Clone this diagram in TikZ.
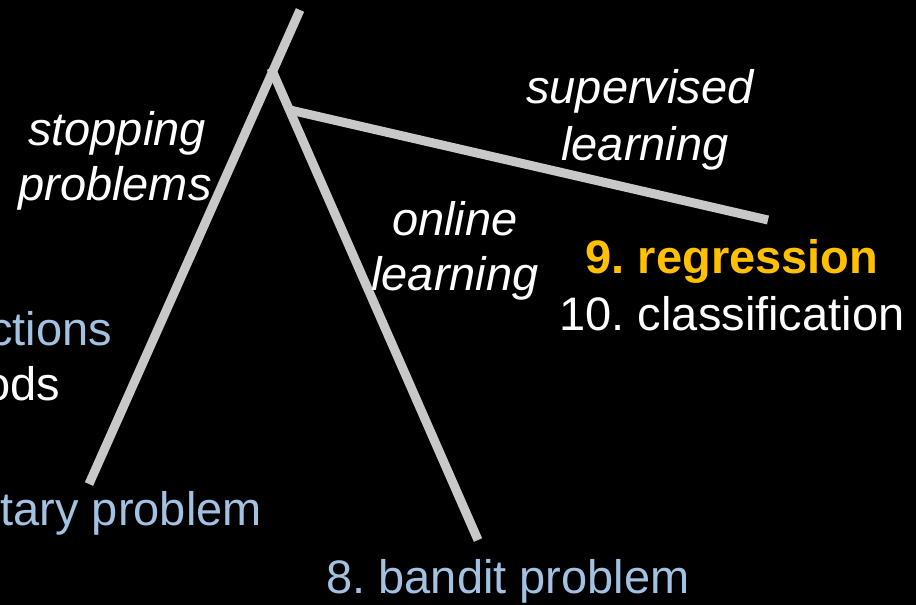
\documentclass[tikz,border=0pt]{standalone}
\usepackage{fontspec}
\setmainfont{Liberation Sans}
\frenchspacing
\definecolor{lineg}{HTML}{C8C8C8}
\definecolor{lblue}{HTML}{A3C2E2}
\definecolor{gold}{HTML}{FFC000}
\begin{document}
\begin{tikzpicture}[x=1pt,y=-1pt,
  txt/.style={inner sep=0pt,font=\fontsize{47}{52}\selectfont\frenchspacing},
  itl/.style={txt,font=\fontsize{47}{52}\selectfont\itshape,text=white},
  branch/.style={draw=lineg,line width=9pt}]
\fill[black] (0,0) rectangle (916,605);
\useasboundingbox (0,0) rectangle (916,605);
\clip (0,0) rectangle (916,605);
% branch points
\coordinate (top) at (300,10);
\coordinate (leftend) at (89,484);
\coordinate (apex) at (271,68);
\coordinate (bandend) at (478,540);
\coordinate (sstart) at (290,110);
\coordinate (send) at (768,220);
\draw[branch] (leftend) -- (top);
\draw[branch] (apex) -- (bandend);
\draw[branch] (sstart) -- (send);
% labels
\node[itl,anchor=base] (stop1) at (117,145) {stopping};
\node[itl,anchor=base] (stop2) at (115,200) {problems};
\node[itl,anchor=base] (sup1) at (640,103) {supervised};
\node[itl,anchor=base] (sup2) at (645,160) {learning};
\node[itl,anchor=base] (onl1) at (455,235) {online};
\node[itl,anchor=base] (onl2) at (455,290) {learning};
\node[txt,anchor=base,text=gold,font=\fontsize{47}{52}\selectfont\bfseries\frenchspacing] (reg) at (732,273) {9. regression};
\node[txt,anchor=base,text=white] (cls) at (732,330) {10. classification};
\node[txt,anchor=base east,text=lblue] (fn) at (112,345) {ctions};
\node[txt,anchor=base east,text=white] (md) at (60,400) {ods};
\node[txt,anchor=base east,text=lblue] (sec) at (262,525) {tary problem};
\node[txt,anchor=base,text=lblue] (band) at (508,593) {8. bandit problem};
\end{tikzpicture}
\end{document}
